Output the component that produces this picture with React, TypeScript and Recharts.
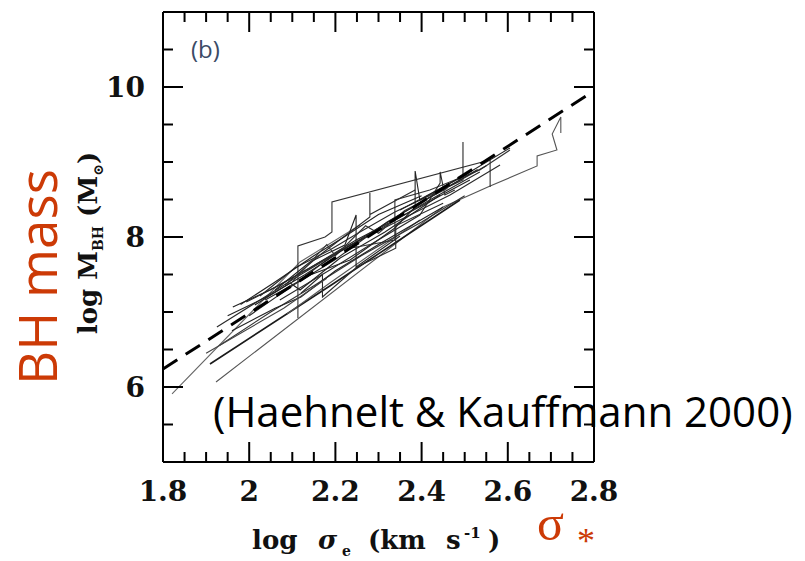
import { LineChart, Line, XAxis, YAxis, Customized } from "recharts";

type Pt = { x: number; y: number };

const xTicks = [1.8, 1.85, 1.9, 1.95, 2, 2.05, 2.1, 2.15, 2.2, 2.25, 2.3, 2.35, 2.4, 2.45, 2.5, 2.55, 2.6, 2.65, 2.7, 2.75, 2.8];
const xLabels = [1.8, 2, 2.2, 2.4, 2.6, 2.8];
const yTicks = [5, 5.5, 6, 6.5, 7, 7.5, 8, 8.5, 9, 9.5, 10, 10.5, 11];
const yLabels = [6, 8, 10];

// mean relation, thick dashed
const meanRelation = [[1.8, 6.24], [2.8, 9.95]];

// model tracks: log sigma_e vs log M_BH
const trackLow = [[1.923, 6.067], [2.45, 8.4], [2.559, 8.68], [2.668, 8.947], [2.668, 9.08], [2.714, 9.16], [2.703, 9.373], [2.723, 9.6], [2.723, 9.387]];
const trackSteep = [[1.821, 5.907], [2.118, 7.667], [2.257, 8.16]];
const trackMid = [[1.909, 6.307], [2.187, 7.347], [2.489, 8.493]];
const trackShort = [[2.088, 6.973], [2.187, 7.387], [2.396, 8.227]];
const trackBox = [[2.113, 6.92], [2.113, 7.88], [2.176, 8.0], [2.192, 8.067], [2.192, 8.467], [2.559, 9.027], [2.559, 8.667]];
const bandA = [[1.925, 6.8], [2.025, 7.16], [2.118, 7.493], [2.234, 7.893], [2.35, 8.227], [2.466, 8.56], [2.582, 8.96]];
const bandB = [[1.962, 7.067], [2.048, 7.293], [2.141, 7.587], [2.248, 7.96], [2.373, 8.333], [2.512, 8.76]];
const bandC = [[1.993, 7.133], [2.071, 7.36], [2.164, 7.667], [2.28, 8.027], [2.419, 8.493], [2.535, 8.867]];
const bandD = [[2.013, 7.093], [2.095, 7.387], [2.118, 7.293], [2.211, 7.72], [2.315, 8.067], [2.443, 8.56]];
const bandE = [[2.025, 7.213], [2.106, 7.587], [2.187, 7.827], [2.257, 8.067], [2.338, 8.333], [2.496, 8.76], [2.496, 9.267]];
const bandF = [[2.06, 7.293], [2.141, 7.667], [2.222, 7.893], [2.248, 8.293], [2.248, 7.6], [2.35, 8.013]];
const bandG = [[2.083, 7.36], [2.164, 7.76], [2.28, 8.267], [2.28, 8.587], [2.28, 8.3], [2.385, 8.627]];
const bandH = [[2.118, 7.427], [2.211, 7.827], [2.338, 7.96], [2.338, 8.493], [2.419, 8.627], [2.535, 8.893], [2.605, 9.16]];
const bandI = [[2.037, 7.16], [2.141, 7.493], [2.234, 7.693], [2.338, 8.12], [2.385, 8.4], [2.385, 8.88], [2.396, 8.493], [2.512, 8.867]];
const bandJ = [[2.071, 7.16], [2.187, 7.56], [2.28, 7.893], [2.396, 8.293], [2.443, 8.72], [2.443, 8.867], [2.454, 8.56], [2.477, 8.627]];
const bandK = [[2.35, 8.36], [2.489, 8.787], [2.605, 9.187]];
const bandL = [[1.93, 6.55], [2.05, 7.0], [2.15, 7.35], [2.26, 7.75], [2.4, 8.2], [2.5, 8.55]];
const bandM = [[1.96, 6.75], [2.06, 7.05], [2.12, 7.2], [2.2, 7.55], [2.3, 7.9], [2.45, 8.4]];
const bandN = [[2.0, 6.95], [2.1, 7.35], [2.2, 7.7], [2.26, 7.95], [2.32, 8.2], [2.44, 8.6], [2.55, 8.95]];
const bandO = [[1.98, 7.1], [2.06, 7.4], [2.15, 7.75], [2.22, 8.0], [2.3, 8.3], [2.4, 8.55]];
const bandP = [[2.1, 7.4], [2.18, 7.9], [2.2, 7.75], [2.27, 8.15], [2.3, 8.05], [2.36, 8.35], [2.46, 8.65]];
const bandR = [[2.12, 7.25], [2.17, 7.5], [2.17, 7.2], [2.25, 7.6], [2.34, 7.85], [2.34, 8.15], [2.45, 8.45]];
const bandS = [[1.9, 6.45], [1.99, 6.75], [2.08, 7.05], [2.18, 7.45]];
const bandT = [[1.95, 6.95], [2.04, 7.2], [2.13, 7.5], [2.21, 7.8], [2.35, 8.3], [2.47, 8.7], [2.53, 8.9]];

const toPts = (a: number[][]): Pt[] => a.map(([x, y]) => ({ x, y }));

const thinTracks = [
  { d: trackLow, c: "#555", w: 1.1 },
  { d: trackSteep, c: "#666", w: 1.1 },
  { d: trackMid, c: "#1a1a1a", w: 1.6 },
  { d: trackShort, c: "#555", w: 1.1 },
  { d: trackBox, c: "#333", w: 1.1 },
  { d: bandA, c: "#2a2a2a", w: 1.1 },
  { d: bandB, c: "#222", w: 1.1 },
  { d: bandC, c: "#2a2a2a", w: 1.1 },
  { d: bandD, c: "#222", w: 1.1 },
  { d: bandE, c: "#2a2a2a", w: 1.1 },
  { d: bandF, c: "#222", w: 1.1 },
  { d: bandG, c: "#2a2a2a", w: 1.1 },
  { d: bandH, c: "#333", w: 1.1 },
  { d: bandI, c: "#222", w: 1.1 },
  { d: bandJ, c: "#2a2a2a", w: 1.1 },
  { d: bandK, c: "#222", w: 1.1 },
  { d: bandL, c: "#333", w: 1.1 },
  { d: bandM, c: "#222", w: 1.1 },
  { d: bandN, c: "#2a2a2a", w: 1.1 },
  { d: bandO, c: "#222", w: 1.1 },
  { d: bandP, c: "#333", w: 1.1 },
  { d: bandR, c: "#2a2a2a", w: 1.1 },
  { d: bandS, c: "#444", w: 1.1 },
  { d: bandT, c: "#222", w: 1.1 },
];

const RED = "#cc3a06";
const SERIF = "'DejaVu Serif', serif";
const isIn = (list: number[], v: number) => list.some((t) => Math.abs(t - v) < 1e-6);

function BottomTick({ x, y, payload }: any) {
  const major = isIn(xLabels, payload.value);
  return (
    <g>
      <line x1={x} x2={x} y1={y} y2={y - (major ? 20 : 10)} stroke="#000" strokeWidth={2} />
      {major && (
        <text x={x} y={y + 39} textAnchor="middle" fontFamily={SERIF} fontWeight="bold" fontSize={28} fill="#111">
          {String(payload.value)}
        </text>
      )}
    </g>
  );
}

function TopTick({ x, y, payload }: any) {
  const major = isIn(xLabels, payload.value);
  return <line x1={x} x2={x} y1={y} y2={y + (major ? 20 : 10)} stroke="#000" strokeWidth={2} />;
}

function LeftTick({ x, y, payload }: any) {
  const major = isIn(yLabels, payload.value);
  return (
    <g>
      <line x1={x} x2={x + (major ? 20 : 10)} y1={y} y2={y} stroke="#000" strokeWidth={2} />
      {major && (
        <text x={x - 18} y={y + 10} textAnchor="end" fontFamily={SERIF} fontWeight="bold" fontSize={28} fill="#111">
          {String(payload.value)}
        </text>
      )}
    </g>
  );
}

function RightTick({ x, y, payload }: any) {
  const major = isIn(yLabels, payload.value);
  return <line x1={x} x2={x - (major ? 20 : 10)} y1={y} y2={y} stroke="#000" strokeWidth={2} />;
}

function Titles() {
  return (
    <g>
      <text x={191} y={58} fontFamily="'Open Sans', sans-serif" fontSize={24} fill="#3b4a66">(b)</text>
      <g fontFamily={SERIF} fontWeight="bold" fontSize={26} fill="#111">
        <text x={252} y={549}>log</text>
        <text x={318} y={549} fontStyle="italic">σ</text>
        <text x={342} y={556} fontSize={14}>e</text>
        <text x={368} y={549}>(km</text>
        <text x={446} y={549}>s</text>
        <text x={464} y={538} fontSize={15}>-1</text>
        <text x={488} y={549}>)</text>
      </g>
      <text transform="translate(97,243) rotate(-90)" textAnchor="middle" fontFamily={SERIF} fontWeight="bold" fontSize={26} fill="#111">
        log{"  "}M<tspan fontSize={14} dy={6}>BH</tspan>
        <tspan dy={-6}>{"  "}(M</tspan>
        <tspan fontSize={14} dy={6}>⊙</tspan>
        <tspan dy={-6}>)</tspan>
      </text>
      <text x={213} y={427} fontFamily="'Open Sans', sans-serif" fontSize={42} fill="#000">
        (Haehnelt &amp; Kauffmann 2000)
      </text>
      <text transform="translate(57,277) rotate(-90)" textAnchor="middle" fontFamily="'Open Sans', sans-serif" fontSize={53} fill={RED}>
        BH mass
      </text>
      <text x={537} y={540} fontFamily="'Liberation Serif', serif" fontSize={50} fill={RED}>σ</text>
      <text x={577} y={553} fontFamily="'Liberation Serif', serif" fontSize={36} fill={RED}>*</text>
    </g>
  );
}

export default function App() {
  return (
    <div style={{ position: "absolute", left: 0, top: 0, width: 805, height: 561, background: "#fff" }}>
      <LineChart width={805} height={561} margin={{ top: 10, right: 209, bottom: 59, left: 103 }}>
        <XAxis
          xAxisId="b"
          dataKey="x"
          type="number"
          domain={[1.8, 2.8]}
          allowDataOverflow
          ticks={xTicks}
          interval={0}
          height={40}
          tickSize={0}
          tickMargin={0}
          tickLine={false}
          axisLine={{ stroke: "#000", strokeWidth: 2 }}
          tick={<BottomTick />}
        />
        <XAxis
          xAxisId="t"
          orientation="top"
          dataKey="x"
          type="number"
          domain={[1.8, 2.8]}
          allowDataOverflow
          ticks={xTicks}
          interval={0}
          height={2}
          tickSize={0}
          tickMargin={0}
          tickLine={false}
          axisLine={{ stroke: "#000", strokeWidth: 2 }}
          tick={<TopTick />}
        />
        <YAxis
          yAxisId="l"
          type="number"
          domain={[5, 11]}
          allowDataOverflow
          ticks={yTicks}
          interval={0}
          width={60}
          tickSize={0}
          tickMargin={0}
          tickLine={false}
          axisLine={{ stroke: "#000", strokeWidth: 2 }}
          tick={<LeftTick />}
        />
        <YAxis
          yAxisId="r"
          orientation="right"
          type="number"
          domain={[5, 11]}
          allowDataOverflow
          ticks={yTicks}
          interval={0}
          width={2}
          tickSize={0}
          tickMargin={0}
          tickLine={false}
          axisLine={{ stroke: "#000", strokeWidth: 2 }}
          tick={<RightTick />}
        />
        {thinTracks.map((t, i) => (
          <Line
            key={i}
            xAxisId="b"
            yAxisId="l"
            data={toPts(t.d)}
            dataKey="y"
            type="linear"
            stroke={t.c}
            strokeWidth={t.w}
            dot={false}
            activeDot={false}
            isAnimationActive={false}
          />
        ))}
        <Line
          xAxisId="b"
          yAxisId="l"
          data={toPts(meanRelation)}
          dataKey="y"
          type="linear"
          stroke="#000"
          strokeWidth={3}
          strokeDasharray="17 10"
          dot={false}
          activeDot={false}
          isAnimationActive={false}
        />
        <Customized component={Titles} />
      </LineChart>
    </div>
  );
}
